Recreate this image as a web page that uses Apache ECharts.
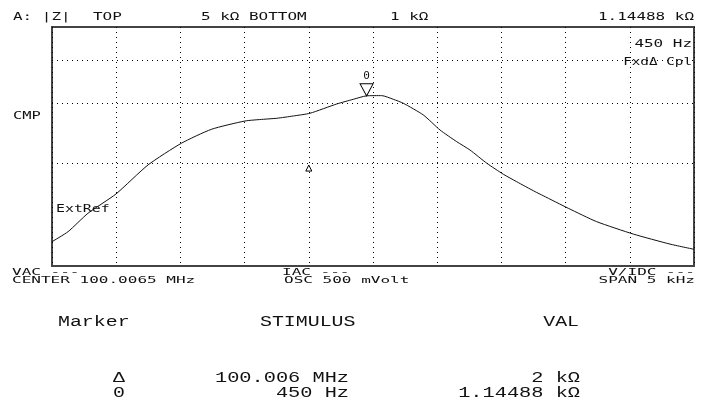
<!DOCTYPE html>
<html>
<head>
<meta charset="utf-8">
<script src="https://cdn.jsdelivr.net/npm/echarts@6/dist/echarts.min.js"></script>
<style>
html,body{margin:0;padding:0;background:#fff;}
#chart{width:702px;height:411px;}
</style>
</head>
<body>
<div id="chart"></div>
<script>
// Frequency offset from center (100.0065 MHz), in Hz
const freqOffsetHz = [-2500, -2375, -2220, -2002, -1752, -1493, -1259, -997, -854, -750, -621, -491, -283, -153, -50, 68, 158, 236, 392, 522, 652, 755, 886, 1015, 1119, 1262, 1326, 1521, 1742, 2027, 2313, 2500];
// |Z| in ohms
const impedanceOhm = [1178, 1260, 1426, 1624, 1975, 2285, 2510, 2655, 2686, 2704, 2746, 2797, 2977, 3073, 3145, 3150, 3073, 2992, 2765, 2499, 2310, 2184, 1998, 1855, 1764, 1650, 1605, 1475, 1348, 1240, 1159, 1119];
// axis settings
const xMin = -2500, xMax = 2500, xStep = 500;
const yBottom = 1000, yTop = 5000;
const yGridValues = [2000, 3000, 4000];
// markers: reference (delta) marker and marker 0
const refMarker = [-500, 2000];
const marker0 = [-50, 3145];

const monoA = '"DejaVu Sans Mono", monospace';
const monoB = '"Liberation Mono", "DejaVu Sans Mono", monospace';

function txt(x, y, text, size, sx, align, family) {
  return {
    type: 'text', x: x, y: y, scaleX: sx, silent: true,
    style: {
      text: text, fontSize: size, fontFamily: family || monoA, fill: '#111',
      align: align || 'left', verticalAlign: 'middle'
    }
  };
}

const graphics = [
  txt(13, 17, 'A: |Z|', 11, 1.45),
  txt(93, 17, 'TOP', 11, 1.45),
  txt(201, 17, '5 k\u03A9 BOTTOM', 11, 1.45),
  txt(390, 17, '1 k\u03A9', 11, 1.45),
  txt(694, 17, '1.14488 k\u03A9', 11, 1.45, 'right'),
  txt(692, 44, '450 Hz', 11, 1.45, 'right'),
  txt(692, 62, 'Fxd\u0394 Cpl', 11, 1.3, 'right'),
  txt(13, 116, 'CMP', 11, 1.4),
  txt(56, 209, 'ExtRef', 11, 1.35),
  txt(12, 273, 'VAC ---', 9, 1.78),
  txt(12, 281, 'CENTER 100.0065 MHz', 9, 1.78),
  txt(282, 273, 'IAC ---', 9, 1.78),
  txt(284, 281, 'OSC 500 mVolt', 9, 1.78),
  txt(695, 273, 'V/IDC ---', 9, 1.78, 'right'),
  txt(695, 281, 'SPAN 5 kHz', 9, 1.78, 'right'),
  txt(58, 322, 'Marker', 14, 1.42, 'left', monoB),
  txt(260, 322, 'STIMULUS', 14, 1.42, 'left', monoB),
  txt(579, 322, 'VAL', 14, 1.42, 'right', monoB),
  txt(125, 378, '\u0394', 14, 1.42, 'right', monoB),
  txt(125, 393, '0', 14, 1.42, 'right', monoB),
  txt(349, 378, '100.006 MHz', 14, 1.45, 'right', monoB),
  txt(349, 393, '450 Hz', 14, 1.45, 'right', monoB),
  txt(580, 378, '2 k\u03A9', 14, 1.45, 'right', monoB),
  txt(580, 393, '1.14488 k\u03A9', 14, 1.45, 'right', monoB)
];

const chart = echarts.init(document.getElementById('chart'), null, {renderer: 'canvas'});
const dotted = {type: [1, 4], color: '#000', width: 1};
chart.setOption({
  animation: false,
  backgroundColor: '#fff',
  grid: {left: 52, top: 27, width: 642, height: 239, show: true, borderColor: '#444', borderWidth: 2, backgroundColor: 'transparent'},
  xAxis: {
    type: 'value', min: xMin, max: xMax, interval: xStep,
    axisLine: {show: false}, axisTick: {show: false}, axisLabel: {show: false},
    splitLine: {show: true, lineStyle: dotted}
  },
  yAxis: {
    type: 'log', logBase: 10, min: yBottom, max: yTop,
    axisLine: {show: false}, axisTick: {show: false}, axisLabel: {show: false},
    splitLine: {show: false}
  },
  graphic: graphics,
  series: [{
    type: 'line',
    data: freqOffsetHz.map((f, i) => [f, impedanceOhm[i]]),
    showSymbol: false,
    smooth: 0.2,
    lineStyle: {color: '#111', width: 1},
    silent: true,
    markLine: {
      silent: true, symbol: 'none', label: {show: false},
      lineStyle: dotted,
      data: yGridValues.map(v => ({yAxis: v}))
    },
    markPoint: {
      silent: true,
      data: [
        {
          coord: marker0, symbol: 'triangle', symbolRotate: 180, symbolSize: [13, 12], symbolOffset: [0, -6],
          itemStyle: {color: '#fff', borderColor: '#000', borderWidth: 1},
          label: {show: true, formatter: '0', position: 'top', distance: 2, color: '#111', fontSize: 11, fontFamily: monoA}
        },
        {
          coord: refMarker, symbol: 'triangle', symbolSize: [6, 6], symbolOffset: [0, 5],
          itemStyle: {color: '#fff', borderColor: '#000', borderWidth: 1},
          label: {show: false}
        }
      ]
    }
  }]
});
</script>
</body>
</html>
